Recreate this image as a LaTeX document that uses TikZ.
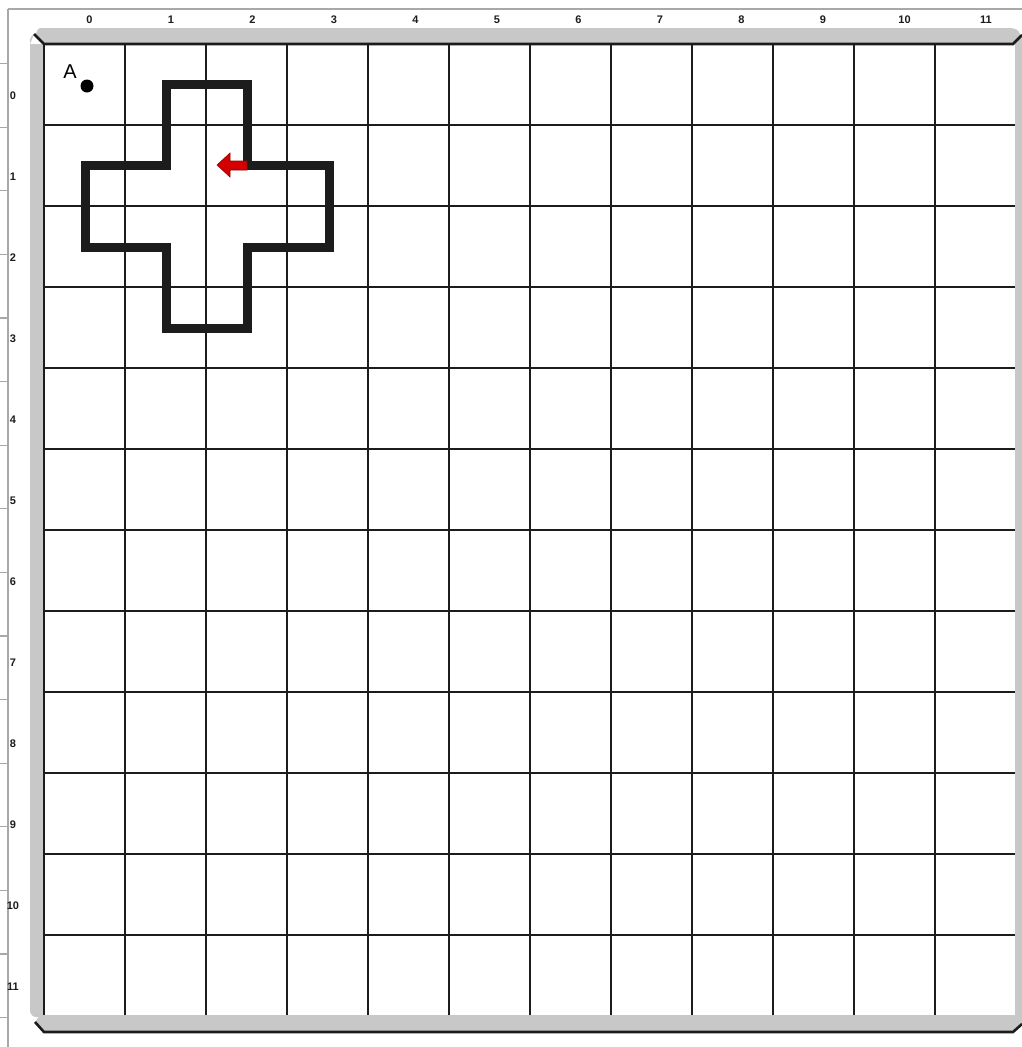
\documentclass[tikz,border=0pt]{standalone}
\usepackage{fontspec}
\setmainfont{Liberation Sans}
\definecolor{framegray}{HTML}{C8C8C8}
\definecolor{rulergray}{HTML}{A8A8A8}
\definecolor{inkdark}{HTML}{1C1C1C}
\definecolor{turtlered}{HTML}{D40000}
\tikzset{
  gridline/.style={draw=inkdark, line width=2.8pt},
  frameline/.style={draw=inkdark, line width=2.6pt, line join=miter},
  framebar/.style={fill=framegray, draw=none},
  rulerline/.style={draw=rulergray, line width=1.3pt},
  shapeline/.style={draw=inkdark, line width=9pt, line join=miter, line cap=rect},
  ticklabel/.style={font=\fontsize{11}{11}\selectfont\bfseries, text=inkdark, inner sep=0pt},
  pointlabel/.style={font=\fontsize{20}{20}\selectfont, text=black, inner sep=0pt}
}
\begin{document}
\begin{tikzpicture}[x=1pt,y=-1pt]
\useasboundingbox (0,0) rectangle (1022,1047);
\fill[white] (0,0) rectangle (1022,1047);
% ruler lines
\draw[rulerline] (8,9) -- (1022,9);
\draw[rulerline] (8,9) -- (8,1047);
\foreach \k in {1,...,16} {
  \draw[rulerline] (0,{63.6*\k}) -- (8,{63.6*\k});
}
% frame bars
\path[framebar] (44,44) -- (34,34) to[out=-45,in=180] (40,28) -- (1010,28) to[out=0,in=90] (1020,35) -- (1022,35) -- (1022,44) -- cycle;
\path[framebar] (30,44) -- (44,44) -- (44,1017) -- (36,1017) to[out=180,in=-90] (30,1010) -- (30,40) to[out=90,in=-135] (34,34) -- cycle;
\path[framebar] (1015,40) rectangle (1022,1024);
\path[framebar] (44,1015) -- (1022,1015) -- (1022,1024) -- (1013,1032) -- (44,1032) -- (35,1022) to[out=45,in=180] (42,1015) -- cycle;
% grid
\foreach \k in {1,...,11} {
  \draw[gridline] ({44+81*\k},44) -- ({44+81*\k},1015);
  \draw[gridline] (44,{44+81*\k}) -- (1015,{44+81*\k});
}
% frame dark edges
\draw[frameline] (34,34) -- (44,44) -- (1013,44) -- (1022,35);
\draw[frameline] (44,44) -- (44,1015);
\draw[frameline] (35,1022) -- (44,1032) -- (1013,1032) -- (1022,1024);
% labels
\foreach \k in {0,...,11} {
  \node[ticklabel] (col\k) at ({89.5+81.5*\k},20) {\k};
  \node[ticklabel] (row\k) at (13,{96+81*\k}) {\k};
}
% point A
\fill[black] (87,86) circle (6.5);
\node[pointlabel] (labelA) at (70,72) {A};
% cross shape drawn by the turtle
\draw[shapeline] (247,165.5) -- (247,84.5) -- (166,84.5) -- (166,165.5) -- (85,165.5) -- (85,247) -- (166,247) -- (166,328) -- (247,328) -- (247,247) -- (329,247) -- (329,165.5) -- cycle;
% turtle arrow
\fill[turtlered, draw=turtlered!70!black, line width=0.6pt] (217,165) -- (230,153) -- (230,161) -- (247,161) -- (247,170) -- (230,170) -- (230,177) -- cycle;
\end{tikzpicture}
\end{document}
